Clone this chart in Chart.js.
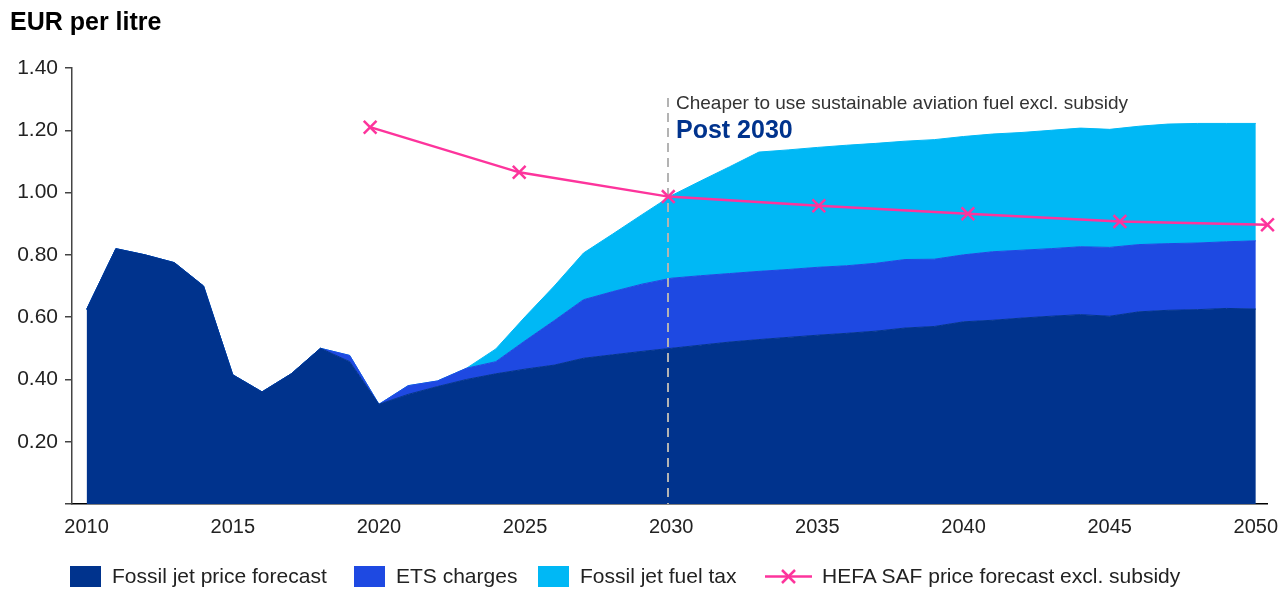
<!DOCTYPE html>
<html lang="en">
<head>
<meta charset="UTF-8">
<title>EUR per litre</title>
<script src="https://cdn.jsdelivr.net/npm/chart.js"></script>
<style>
  body { margin: 0; background: #fff; font-family: "Liberation Sans", Arial, sans-serif; }
  .wrap { position: relative; width: 1279px; height: 589px; }
  #priceChart { position: absolute; left: 0; top: 0; }
  .title { position: absolute; left: 10px; top: 7px; font-size: 25px; font-weight: bold; color: #000; }
  .legend-item { position: absolute; top: 564px; display: flex; align-items: center; font-size: 21px; color: #222; white-space: nowrap; }
  .swatch { width: 31px; height: 21px; margin-right: 11px; }
</style>
</head>
<body>
<div class="wrap">
    <canvas id="priceChart" width="1279" height="589"></canvas>
    <div class="title">EUR per litre</div>

    <!-- Legend -->
    <div class="legend-item" style="left:70px"><span class="swatch" style="background:#00338D"></span>Fossil jet price forecast</div>
    <div class="legend-item" style="left:354px"><span class="swatch" style="background:#1E49E2"></span>ETS charges</div>
    <div class="legend-item" style="left:538px"><span class="swatch" style="background:#00B8F5"></span>Fossil jet fuel tax</div>
    <div class="legend-item" style="left:765px">
        <svg width="47" height="21" style="margin-right:10px">
            <line x1="0" y1="10.5" x2="47" y2="10.5" stroke="#FD349C" stroke-width="2.5"/>
            <line x1="17" y1="4" x2="30" y2="17" stroke="#FD349C" stroke-width="2.5"/>
            <line x1="30" y1="4" x2="17" y2="17" stroke="#FD349C" stroke-width="2.5"/>
        </svg>HEFA SAF price forecast excl. subsidy
    </div>
</div>

<script>
    // Data (EUR per litre)
    const years = [2010, 2011, 2012, 2013, 2014, 2015, 2016, 2017, 2018, 2019,
                   2020, 2021, 2022, 2023, 2024, 2025, 2026, 2027, 2028, 2029,
                   2030, 2031, 2032, 2033, 2034, 2035, 2036, 2037, 2038, 2039,
                   2040, 2041, 2042, 2043, 2044, 2045, 2046, 2047, 2048, 2049, 2050];

    const fossilPrice = [0.625, 0.82, 0.80, 0.775, 0.70, 0.415, 0.36, 0.418, 0.50, 0.457,
                         0.32, 0.352, 0.377, 0.40, 0.418, 0.433, 0.446, 0.468, 0.479, 0.49,
                         0.50, 0.51, 0.52, 0.528, 0.535, 0.542, 0.548, 0.555, 0.565, 0.57,
                         0.585, 0.59, 0.597, 0.603, 0.608, 0.603, 0.617, 0.622, 0.624, 0.628, 0.626];

    const etsCharges = [0, 0, 0, 0, 0, 0, 0, 0, 0, 0.02,
                        0, 0.028, 0.018, 0.036, 0.039, 0.091, 0.143, 0.188, 0.203, 0.216,
                        0.225, 0.223, 0.22, 0.219, 0.218, 0.218, 0.217, 0.218, 0.22, 0.216,
                        0.215, 0.22, 0.218, 0.217, 0.218, 0.221, 0.216, 0.214, 0.214, 0.214, 0.219];

    const fuelTax = [0, 0, 0, 0, 0, 0, 0, 0, 0, 0,
                     0, 0, 0, 0, 0.041, 0.077, 0.111, 0.15, 0.185, 0.223,
                     0.265, 0.304, 0.343, 0.383, 0.384, 0.385, 0.387, 0.385, 0.38, 0.384,
                     0.38, 0.378, 0.378, 0.38, 0.381, 0.379, 0.38, 0.384, 0.384, 0.38, 0.377];

    const hefaYears = [2019.7, 2024.8, 2029.9, 2035.05, 2040.15, 2045.35, 2050.4];
    const hefaPrice = [1.21, 1.065, 0.987, 0.958, 0.932, 0.907, 0.897];

    const xTickYears = [2010, 2015, 2020, 2025, 2030, 2035, 2040, 2045, 2050];
    const yTickValues = [0, 0.2, 0.4, 0.6, 0.8, 1.0, 1.2, 1.4];

    const markerYear = 2029.9;
    const noteText = 'Cheaper to use sustainable aviation fuel excl. subsidy';
    const noteHeadline = 'Post 2030';

    const toPoints = (xs, ys) => xs.map((x, i) => ({ x: x, y: ys[i] }));

    // Dashed 2030 marker and its note, drawn just under the HEFA line
    const post2030Plugin = {
        id: 'post2030',
        beforeDatasetDraw(chart, args) {
            if (args.index !== 0) return;
            const { ctx, chartArea, scales } = chart;
            const x = Math.round(scales.x.getPixelForValue(markerYear));
            ctx.save();
            ctx.strokeStyle = '#b3b3b3';
            ctx.lineWidth = 2;
            ctx.setLineDash([9, 6]);
            ctx.beginPath();
            ctx.moveTo(x, 98);
            ctx.lineTo(x, chartArea.bottom);
            ctx.stroke();
            ctx.setLineDash([]);
            ctx.textBaseline = 'middle';
            ctx.fillStyle = '#333';
            ctx.font = '19px "Liberation Sans", Arial, sans-serif';
            ctx.fillText(noteText, x + 8, 104);
            ctx.fillStyle = '#00338D';
            ctx.font = 'bold 25px "Liberation Sans", Arial, sans-serif';
            ctx.fillText(noteHeadline, x + 8, 131);
            ctx.restore();
        }
    };

    const areaStyle = (color) => ({
        backgroundColor: color,
        borderColor: color,
        borderWidth: 1,
        pointRadius: 0,
        tension: 0,
        stack: 'fuel'
    });

    const ctx = document.getElementById('priceChart').getContext('2d');
    const priceChart = new Chart(ctx, {
        type: 'line',
        data: {
            datasets: [
                {
                    label: 'HEFA SAF price forecast excl. subsidy',
                    data: toPoints(hefaYears, hefaPrice),
                    borderColor: '#FD349C',
                    backgroundColor: '#FD349C',
                    borderWidth: 2.5,
                    pointStyle: 'crossRot',
                    pointRadius: 9,
                    pointBorderWidth: 2.5,
                    fill: false,
                    tension: 0,
                    stack: 'hefa',
                    clip: false
                },
                Object.assign({ label: 'Fossil jet price forecast', data: toPoints(years, fossilPrice), fill: 'origin' }, areaStyle('#00338D')),
                Object.assign({ label: 'ETS charges', data: toPoints(years, etsCharges), fill: '-1' }, areaStyle('#1E49E2')),
                Object.assign({ label: 'Fossil jet fuel tax', data: toPoints(years, fuelTax), fill: '-1' }, areaStyle('#00B8F5'))
            ]
        },
        options: {
            responsive: false,
            animation: false,
            layout: { padding: { top: 68, right: 5, left: 0, bottom: 0 } },
            plugins: {
                legend: { display: false },
                tooltip: { enabled: false }
            },
            scales: {
                x: {
                    type: 'linear',
                    min: 2009.5,
                    max: 2050.4,
                    afterBuildTicks: (scale) => { scale.ticks = xTickYears.map(v => ({ value: v })); },
                    afterFit: (scale) => {
                        scale.height = 85;
                        scale.paddingLeft = 0;
                        scale.paddingRight = 0;
                    },
                    grid: { display: false, drawTicks: false },
                    border: { display: true, color: '#000', width: 1.5 },
                    ticks: {
                        padding: 11,
                        color: '#222',
                        font: { family: '"Liberation Sans", Arial, sans-serif', size: 20 },
                        maxRotation: 0,
                        callback: (v) => String(v)
                    }
                },
                y: {
                    stacked: true,
                    min: 0,
                    max: 1.4,
                    afterBuildTicks: (scale) => { scale.ticks = yTickValues.map(v => ({ value: v })); },
                    afterFit: (scale) => { scale.width = 72; },
                    grid: { drawOnChartArea: false, drawTicks: true, tickLength: 7, color: '#444', lineWidth: 1.5 },
                    border: { display: true, color: '#444', width: 1.5 },
                    ticks: {
                        padding: 7,
                        color: '#222',
                        font: { family: '"Liberation Sans", Arial, sans-serif', size: 21 },
                        callback: (v) => v === 0 ? '' : v.toFixed(2)
                    }
                }
            }
        },
        plugins: [post2030Plugin]
    });
</script>
</body>
</html>
